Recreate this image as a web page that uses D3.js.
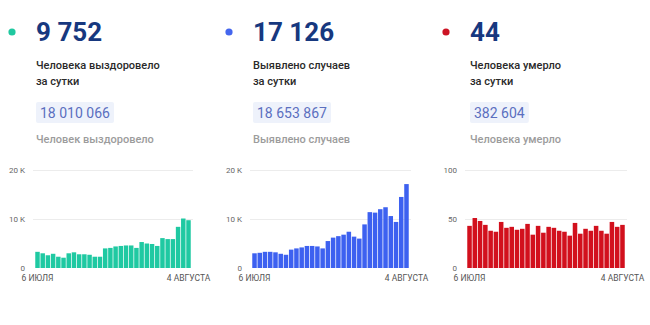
<!DOCTYPE html>
<html>
<head>
<meta charset="utf-8">
<script src="https://cdn.jsdelivr.net/npm/d3@7"></script>
<style>
  html, body { margin: 0; padding: 0; background: #fff; }
  svg { display: block; font-family: Roboto, "Noto Sans", sans-serif; }
</style>
</head>
<body>
<svg id="chart" width="650" height="325"></svg>
<script>
// ---- data ----
const days = ["06.07","07.07","08.07","09.07","10.07","11.07","12.07","13.07","14.07","15.07",
              "16.07","17.07","18.07","19.07","20.07","21.07","22.07","23.07","24.07","25.07",
              "26.07","27.07","28.07","29.07","30.07","31.07","01.08","02.08","03.08","04.08"];
const xTickDays = ["06.07", "04.08"];
const xTickLabels = ["6 ИЮЛЯ", "4 АВГУСТА"];

const recovered = [3300,3000,2600,2900,2300,2100,3000,3200,2800,2800,
                   2700,2300,2300,4000,4100,4400,4500,4600,4600,4100,
                   5300,5000,4900,4500,6100,5900,5900,8400,10100,9752];
const cases = [3000,3100,3300,3300,3200,2900,2700,3750,4000,4200,
               4500,4500,4400,4000,5500,6200,6500,6800,7400,6400,
               6000,8900,11400,11300,12000,12400,10600,9400,14500,17126];
const deaths = [43,51,48,44,38,37,47,41,42,39,
                40,45,34,43,36,42,41,38,37,33,
                46,35,40,38,43,38,35,47,42,44];

const thousandTicks = [0, 10000, 20000];
const thousandTickLabels = ["0", "10 K", "20 K"];
const deathTicks = [0, 50, 100];
const deathTickLabels = ["0", "50", "100"];

const headline = ["9 752", "17 126", "44"];
const dailyLabel = [["Человека выздоровело", "за сутки"], ["Выявлено случаев", "за сутки"], ["Человека умерло", "за сутки"]];
const totals = ["18 010 066", "18 653 867", "382 604"];
const totalLabel = ["Человек выздоровело", "Выявлено случаев", "Человека умерло"];

// ---- drawing ----
const panels = [
  { x: 36,  series: recovered, color: "#1fc9a2", dot: "#20c8a0", max: 20000, ticks: thousandTicks, tickLabels: thousandTickLabels, plotX: 35,  plotW: 156 },
  { x: 253, series: cases,     color: "#3d61f0", dot: "#4466ee", max: 20000, ticks: thousandTicks, tickLabels: thousandTickLabels, plotX: 252, plotW: 157 },
  { x: 470, series: deaths,    color: "#d2101d", dot: "#cc1424", max: 100,   ticks: deathTicks,    tickLabels: deathTickLabels,    plotX: 467, plotW: 158 }
];

const svg = d3.select("#chart");
svg.append("rect").attr("width", 650).attr("height", 325).attr("fill", "#fff");

const plotTop = 170, plotBottom = 268;

panels.forEach((p, i) => {
  const g = svg.append("g");

  // header
  g.append("circle").attr("cx", p.x - 24).attr("cy", 32).attr("r", 3.6).attr("fill", p.dot);
  g.append("text").attr("x", p.x).attr("y", 41)
    .attr("font-size", 26).attr("font-weight", 700).attr("fill", "#17387f")
    .text(headline[i]);
  dailyLabel[i].forEach((t, j) => {
    g.append("text").attr("x", p.x).attr("y", 69 + j * 16)
      .attr("font-size", 11).attr("font-weight", 500).attr("fill", "#2a2a2a")
      .text(t);
  });
  const tot = g.append("text").attr("x", p.x + 4).attr("y", 118)
    .attr("font-size", 14).attr("fill", "#5b6fbf")
    .text(totals[i]);
  const bb = tot.node().getBBox();
  g.insert("rect", "text").attr("x", p.x).attr("y", 102)
    .attr("width", bb.width + 8).attr("height", 21).attr("rx", 2)
    .attr("fill", "#eef2fb");
  g.append("text").attr("x", p.x).attr("y", 143)
    .attr("font-size", 11).attr("font-weight", 500).attr("fill", "#9c9c9c")
    .text(totalLabel[i]);

  // chart
  const x = d3.scaleBand().domain(days).range([p.plotX, p.plotX + p.plotW]).paddingInner(0.14).paddingOuter(0.05);
  const y = d3.scaleLinear().domain([0, p.max]).range([plotBottom, plotTop]);

  const yAxis = g.append("g").attr("transform", `translate(${p.plotX - 2},0)`)
    .call(d3.axisLeft(y).tickValues(p.ticks)
      .tickFormat((d, k) => p.tickLabels[k])
      .tickSize(-(p.plotW + 4)).tickPadding(8));
  yAxis.select(".domain").remove();
  yAxis.selectAll(".tick line").attr("stroke", "#ececec").attr("stroke-width", 1)
    .attr("opacity", d => d === 0 ? 0 : 1);
  yAxis.selectAll(".tick text").attr("fill", "#666").attr("font-size", 8)
    .attr("font-family", "Roboto, sans-serif");

  g.selectAll("rect.bar").data(p.series).enter().append("rect")
    .attr("class", "bar")
    .attr("x", (d, k) => x(days[k]))
    .attr("width", x.bandwidth())
    .attr("y", d => y(d))
    .attr("height", d => y(0) - y(d))
    .attr("fill", p.color);

  const xAxis = g.append("g").attr("transform", `translate(0,${plotBottom + 5})`)
    .call(d3.axisBottom(x).tickValues(xTickDays)
      .tickFormat((d, k) => xTickLabels[k]).tickSize(0).tickPadding(2));
  xAxis.select(".domain").remove();
  xAxis.selectAll(".tick text").attr("fill", "#555").attr("font-size", 8.5)
    .attr("font-family", "Roboto, sans-serif");
});
</script>
</body>
</html>
